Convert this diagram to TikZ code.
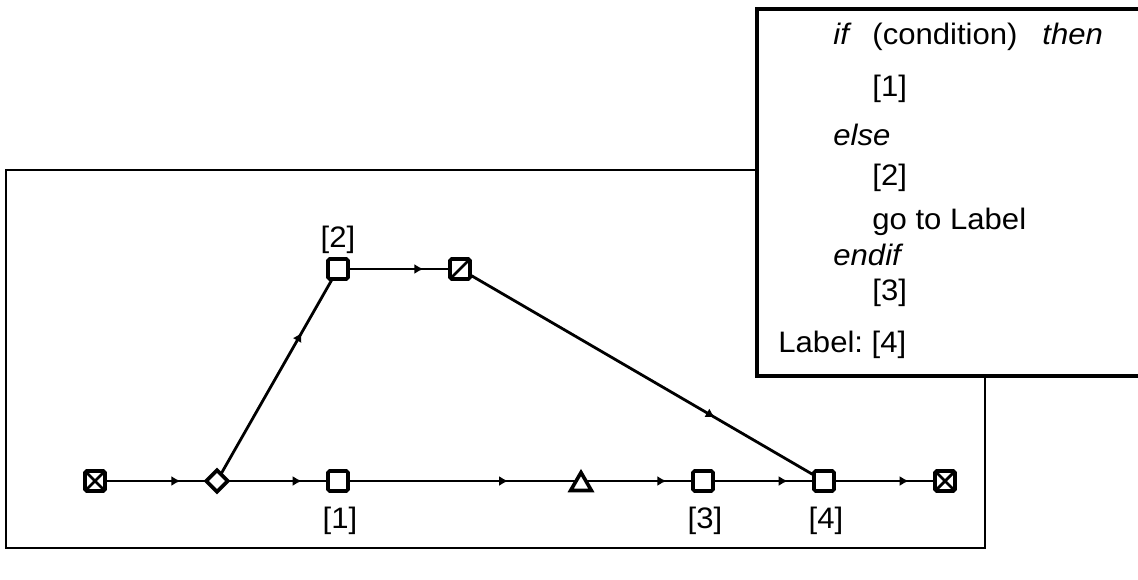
\documentclass[tikz,border=0pt]{standalone}
\usepackage{fontspec}
\setmainfont{Liberation Sans}[FakeStretch=1.05]
\usetikzlibrary{arrows.meta,positioning,shapes.geometric,backgrounds,decorations.markings}
\tikzset{
  blk/.style   = {rectangle, draw, fill=white, line width=1.8pt,
                  minimum size=10pt, inner sep=0pt, rounded corners=0.8pt},
  blkx/.style  = {blk, path picture={
                    \draw[line width=1.4pt]
                      (path picture bounding box.south west) -- (path picture bounding box.north east)
                      (path picture bounding box.north west) -- (path picture bounding box.south east);}},
  blks/.style  = {blk, path picture={
                    \draw[line width=1.4pt]
                      (path picture bounding box.south west) -- (path picture bounding box.north east);}},
  dec/.style   = {diamond, aspect=1, draw, fill=white, line width=1.8pt,
                  minimum width=11.5pt, minimum height=11.5pt, inner sep=0pt},
  jn/.style    = {regular polygon, regular polygon sides=3, draw, fill=white,
                  line width=1.8pt, minimum size=12pt, inner sep=0pt},
  edg/.style   = {line width=1.4pt, postaction={decorate},
                  decoration={markings,
                    mark=at position 0.7 with {\arrow{Latex[length=4.5pt,width=5pt]}}}},
  lab/.style   = {font=\fontsize{14.8}{17}\selectfont, inner sep=0pt},
  codebox/.style = {draw, fill=white, line width=2pt},
  frm/.style   = {draw, line width=1.2pt},
}
\begin{document}
\begin{tikzpicture}[x=0.5pt, y=-0.5pt]
  \useasboundingbox (0,0) rectangle (1138,579);
  % flow graph
  \node[blkx] (start) at (95,481) {};
  \node[dec]  (dia)   at (217,481) {};
  \node[blk]  (n1)    at (338,481) {};
  \node[jn]   (tri)   at (581,484.5) {};
  \node[blk]  (n3)    at (703,481) {};
  \node[blk]  (n4)    at (824,481) {};
  \node[blkx] (stop)  at (945,481) {};
  \node[blk]  (n2)    at (338,269) {};
  \node[blks] (nsl)   at (460,269) {};
  \node[lab] (l2) at (338,240) {[2]};
  \node[lab] (l1) at (340,521) {[1]};
  \node[lab] (l3) at (705,521) {[3]};
  \node[lab] (l4) at (826,521) {[4]};
  \begin{scope}[on background layer]
    \draw[frm] (6,170) rectangle (985,548);
    \draw[edg] (start.center) -- (dia.center);
    \draw[edg] (dia.center) -- (n1.center);
    \draw[edg] (n1.center) -- (n1 -| tri);
    \draw[edg] (tri |- n3) -- (n3.center);
    \draw[edg] (n3.center) -- (n4.center);
    \draw[edg] (n4.center) -- (stop.center);
    \draw[edg] (dia.center) -- (n2.center);
    \draw[edg] (n2.center) -- (nsl.center);
    \draw[edg] (nsl.center) -- (n4.center);
  \end{scope}
  % source text
  \draw[codebox] (1142,9) -- (757,9) -- (757,376) -- (1142,376);
  \node[lab, anchor=base west] (kif)   at (833,44)  {\itshape if};
  \node[lab, anchor=base west] (kcond) at (872,44)  {(condition)};
  \node[lab, anchor=base west] (kthen) at (1042,44) {\itshape then};
  \node[lab, anchor=base west] (s1)    at (872,96)  {[1]};
  \node[lab, anchor=base west] (kelse) at (833,145) {\itshape else};
  \node[lab, anchor=base west] (s2)    at (872,185) {[2]};
  \node[lab, anchor=base west] (sgo)   at (872,229) {go to Label};
  \node[lab, anchor=base west] (kend)  at (833,265) {\itshape endif};
  \node[lab, anchor=base west] (s3)    at (872,300) {[3]};
  \node[lab, anchor=base west] (s4)    at (778,352) {Label:~[4]};
\end{tikzpicture}
\end{document}
